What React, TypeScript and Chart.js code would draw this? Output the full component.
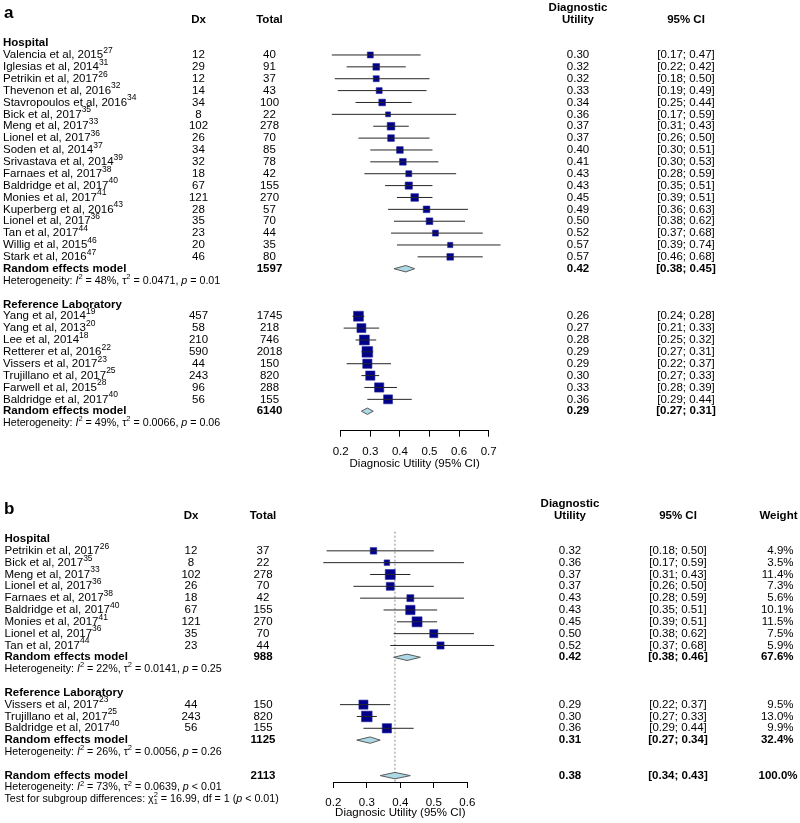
import React, { useEffect, useRef } from "react";
import { Chart, registerables } from "chart.js";
Chart.register(...registerables);

const FONT = "'Liberation Sans', Arial, Helvetica, sans-serif";
const NAVY = "#00008B";
const DIAMOND_FILL = "#ADD8E6";
const AXIS_TITLE = "Diagnosic Utility (95% CI)";

// ================= Panel a : data =================
const aHospNames = ["Valencia et al, 2015", "Iglesias et al, 2014", "Petrikin et al, 2017", "Thevenon et al, 2016", "Stavropoulos et al, 2016", "Bick et al, 2017", "Meng et al, 2017", "Lionel et al, 2017", "Soden et al, 2014", "Srivastava et al, 2014", "Farnaes et al, 2017", "Baldridge et al, 2017", "Monies et al, 2017", "Kuperberg et al, 2016", "Lionel et al, 2017", "Tan et al, 2017", "Willig et al, 2015", "Stark et al, 2016"];
const aHospRefs = [27, 31, 26, 32, 34, 35, 33, 36, 37, 39, 38, 40, 41, 43, 36, 44, 46, 47];
const aHospDx = [12, 29, 12, 14, 34, 8, 102, 26, 34, 32, 18, 67, 121, 28, 35, 23, 20, 46];
const aHospTotal = [40, 91, 37, 43, 100, 22, 278, 70, 85, 78, 42, 155, 270, 57, 70, 44, 35, 80];
const aHospEst = [0.30, 0.32, 0.32, 0.33, 0.34, 0.36, 0.37, 0.37, 0.40, 0.41, 0.43, 0.43, 0.45, 0.49, 0.50, 0.52, 0.57, 0.57];
const aHospLo = [0.17, 0.22, 0.18, 0.19, 0.25, 0.17, 0.31, 0.26, 0.30, 0.30, 0.28, 0.35, 0.39, 0.36, 0.38, 0.37, 0.39, 0.46];
const aHospHi = [0.47, 0.42, 0.50, 0.49, 0.44, 0.59, 0.43, 0.50, 0.51, 0.53, 0.59, 0.51, 0.51, 0.63, 0.62, 0.68, 0.74, 0.68];
// weights (%)
const aHospWeight = [4.1, 5.1, 4.1, 4.1, 5.1, 2.8, 6.7, 5.1, 5.1, 5.1, 4.1, 6.0, 6.7, 5.1, 5.1, 4.1, 3.2, 5.1];

const aLabNames = ["Yang et al, 2014", "Yang et al, 2013", "Lee et al, 2014", "Retterer et al, 2016", "Vissers et al, 2017", "Trujillano et al, 2017", "Farwell et al, 2015", "Baldridge et al, 2017"];
const aLabRefs = [19, 20, 18, 22, 23, 25, 28, 40];
const aLabDx = [457, 58, 210, 590, 44, 243, 96, 56];
const aLabTotal = [1745, 218, 746, 2018, 150, 820, 288, 155];
const aLabEst = [0.26, 0.27, 0.28, 0.29, 0.29, 0.30, 0.33, 0.36];
const aLabLo = [0.24, 0.21, 0.25, 0.27, 0.22, 0.27, 0.28, 0.29];
const aLabHi = [0.28, 0.33, 0.32, 0.31, 0.37, 0.33, 0.39, 0.44];
const aLabWeight = [11.3, 9.2, 11.3, 13.0, 9.8, 9.8, 9.8, 9.2];

// pooled rows: [hospital, reference laboratory]
const aPooledTotal = [1597, 6140];
const aPooledEst = [0.42, 0.29];
const aPooledLo = [0.38, 0.27];
const aPooledHi = [0.45, 0.31];
const aHetI2 = [48, 49];
const aHetTau2 = ["0.0471", "0.0066"];
const aHetP = ["= 0.01", "= 0.06"];

// ================= Panel b : data =================
const bHospNames = ["Petrikin et al, 2017", "Bick et al, 2017", "Meng et al, 2017", "Lionel et al, 2017", "Farnaes et al, 2017", "Baldridge et al, 2017", "Monies et al, 2017", "Lionel et al, 2017", "Tan et al, 2017"];
const bHospRefs = [26, 35, 33, 36, 38, 40, 41, 36, 44];
const bHospDx = [12, 8, 102, 26, 18, 67, 121, 35, 23];
const bHospTotal = [37, 22, 278, 70, 42, 155, 270, 70, 44];
const bHospEst = [0.32, 0.36, 0.37, 0.37, 0.43, 0.43, 0.45, 0.50, 0.52];
const bHospLo = [0.18, 0.17, 0.31, 0.26, 0.28, 0.35, 0.39, 0.38, 0.37];
const bHospHi = [0.50, 0.59, 0.43, 0.50, 0.59, 0.51, 0.51, 0.62, 0.68];
const bHospWeight = [4.9, 3.5, 11.4, 7.3, 5.6, 10.1, 11.5, 7.5, 5.9];

const bLabNames = ["Vissers et al, 2017", "Trujillano et al, 2017", "Baldridge et al, 2017"];
const bLabRefs = [23, 25, 40];
const bLabDx = [44, 243, 56];
const bLabTotal = [150, 820, 155];
const bLabEst = [0.29, 0.30, 0.36];
const bLabLo = [0.22, 0.27, 0.29];
const bLabHi = [0.37, 0.33, 0.44];
const bLabWeight = [9.5, 13.0, 9.9];

// pooled rows: [hospital, reference laboratory, overall]
const bPooledTotal = [988, 1125, 2113];
const bPooledEst = [0.42, 0.31, 0.384];
const bPooledLo = [0.38, 0.27, 0.34];
const bPooledHi = [0.46, 0.34, 0.43];
const bPooledWeight = [67.6, 32.4, 100.0];
const bHetI2 = [22, 26, 73];
const bHetTau2 = ["0.0141", "0.0056", "0.0639"];
const bHetP = ["= 0.25", "= 0.26", "< 0.01"];
const bTestChi2 = "16.99";
const bTestDf = 1;
const bTestP = "< 0.01";

// ================= types / builders =================
type Study = { name: string; ref: number; dx: number; total: number; est: number; lo: number; hi: number; w: number; r: number; showW: boolean };
type Pooled = { total: number; est: number; lo: number; hi: number; w: number | null; r: number; overall: boolean };
type Het = { r: number; i2: number; tau2: string; p: string };
type Panel = {
  letter: string;
  height: number;
  xMin: number;
  xMax: number;
  padLeft: number;
  padRight: number;
  padTop: number;
  yMax: number;
  axisH: number;
  tickPad: number;
  titlePad: number;
  cols: { letter: number; label: number; dx: number; total: number; du: number; ci: number; wt: number | null; wtHead: number | null };
  groups: { title: string; r: number }[];
  studies: Study[];
  pooled: Pooled[];
  hets: Het[];
  test: { r: number; chi2: string; df: number; p: string } | null;
  refLine: { x: number; from: number } | null;
};

function makeStudies(names: string[], refs: number[], dx: number[], total: number[], est: number[], lo: number[], hi: number[], w: number[], r0: number, showW: boolean): Study[] {
  return names.map((name, i) => ({ name, ref: refs[i], dx: dx[i], total: total[i], est: est[i], lo: lo[i], hi: hi[i], w: w[i], r: r0 + i, showW }));
}

const panelA: Panel = {
  letter: "a",
  height: 480,
  xMin: 0.2,
  xMax: 0.7,
  padLeft: 340.7,
  padRight: 311.3,
  padTop: 19.35,
  yMax: 32.64,
  axisH: 49.3,
  tickPad: 8.7,
  titlePad: 9.1,
  cols: { letter: 4, label: 3, dx: 198.5, total: 269.5, du: 578, ci: 686, wt: null, wtHead: null },
  groups: [
    { title: "Hospital", r: 0 },
    { title: "Reference Laboratory", r: 22 },
  ],
  studies: [
    ...makeStudies(aHospNames, aHospRefs, aHospDx, aHospTotal, aHospEst, aHospLo, aHospHi, aHospWeight, 1, false),
    ...makeStudies(aLabNames, aLabRefs, aLabDx, aLabTotal, aLabEst, aLabLo, aLabHi, aLabWeight, 23, false),
  ],
  pooled: [
    { total: aPooledTotal[0], est: aPooledEst[0], lo: aPooledLo[0], hi: aPooledHi[0], w: null, r: 19, overall: false },
    { total: aPooledTotal[1], est: aPooledEst[1], lo: aPooledLo[1], hi: aPooledHi[1], w: null, r: 31, overall: false },
  ],
  hets: [
    { r: 20, i2: aHetI2[0], tau2: aHetTau2[0], p: aHetP[0] },
    { r: 32, i2: aHetI2[1], tau2: aHetTau2[1], p: aHetP[1] },
  ],
  test: null,
  refLine: null,
};

const panelB: Panel = {
  letter: "b",
  height: 343,
  xMin: 0.2,
  xMax: 0.6,
  padLeft: 333.3,
  padRight: 332.7,
  padTop: 35.34,
  yMax: 20.54,
  axisH: 41,
  tickPad: 8.4,
  titlePad: 2.8,
  cols: { letter: 4, label: 4.5, dx: 191, total: 263, du: 570, ci: 678, wt: 793.5, wtHead: 797.5 },
  groups: [
    { title: "Hospital", r: 0 },
    { title: "Reference Laboratory", r: 13 },
  ],
  studies: [
    ...makeStudies(bHospNames, bHospRefs, bHospDx, bHospTotal, bHospEst, bHospLo, bHospHi, bHospWeight, 1, true),
    ...makeStudies(bLabNames, bLabRefs, bLabDx, bLabTotal, bLabEst, bLabLo, bLabHi, bLabWeight, 14, true),
  ],
  pooled: [
    { total: bPooledTotal[0], est: bPooledEst[0], lo: bPooledLo[0], hi: bPooledHi[0], w: bPooledWeight[0], r: 10, overall: false },
    { total: bPooledTotal[1], est: bPooledEst[1], lo: bPooledLo[1], hi: bPooledHi[1], w: bPooledWeight[1], r: 17, overall: false },
    { total: bPooledTotal[2], est: bPooledEst[2], lo: bPooledLo[2], hi: bPooledHi[2], w: bPooledWeight[2], r: 20, overall: true },
  ],
  hets: [
    { r: 11, i2: bHetI2[0], tau2: bHetTau2[0], p: bHetP[0] },
    { r: 18, i2: bHetI2[1], tau2: bHetTau2[1], p: bHetP[1] },
    { r: 21, i2: bHetI2[2], tau2: bHetTau2[2], p: bHetP[2] },
  ],
  test: { r: 22, chi2: bTestChi2, df: bTestDf, p: bTestP },
  refLine: { x: bPooledEst[2], from: -0.62 },
};

// ================= text drawing =================
type Run = { t: string; b?: boolean; i?: boolean; sz?: number; dy?: number; noAdv?: boolean };

function fontOf(r: Run, base: number) {
  return `${r.i ? "italic " : ""}${r.b ? "bold " : ""}${r.sz ?? base}px ${FONT}`;
}

function drawRuns(ctx: CanvasRenderingContext2D, list: Run[], x: number, y: number, align: "left" | "center" | "right", base = 11.5) {
  let total = 0;
  const ws = list.map((r) => {
    ctx.font = fontOf(r, base);
    const w = ctx.measureText(r.t).width;
    if (!r.noAdv) total += w;
    return w;
  });
  let cx = align === "left" ? x : align === "center" ? x - total / 2 : x - total;
  ctx.textAlign = "left";
  list.forEach((r, k) => {
    ctx.font = fontOf(r, base);
    ctx.fillText(r.t, cx, y + (r.dy ?? 0));
    if (!r.noAdv) cx += ws[k];
  });
}

const SUP = 8.5;
const HET = 10.7;

function makeTextPlugin(P: Panel) {
  return {
    id: "forestText_" + P.letter,
    afterDraw(chart: any) {
      const ctx: CanvasRenderingContext2D = chart.ctx;
      const ys = chart.scales.y;
      const Y = (r: number) => ys.getPixelForValue(r);
      const c = P.cols;
      ctx.save();
      ctx.fillStyle = "#000";
      ctx.textBaseline = "middle";

      drawRuns(ctx, [{ t: P.letter, b: true, sz: 17 }], c.letter, Y(-2.5), "left");
      drawRuns(ctx, [{ t: "Dx", b: true }], c.dx, Y(-2), "center");
      drawRuns(ctx, [{ t: "Total", b: true }], c.total, Y(-2), "center");
      drawRuns(ctx, [{ t: "Diagnostic", b: true }], c.du, Y(-3), "center");
      drawRuns(ctx, [{ t: "Utility", b: true }], c.du, Y(-2), "center");
      drawRuns(ctx, [{ t: "95% CI", b: true }], c.ci, Y(-2), "center");
      if (c.wtHead !== null) drawRuns(ctx, [{ t: "Weight", b: true }], c.wtHead, Y(-2), "right");

      P.groups.forEach((g) => drawRuns(ctx, [{ t: g.title, b: true }], c.label, Y(g.r), "left"));

      P.studies.forEach((s) => {
        const y = Y(s.r);
        drawRuns(ctx, [{ t: s.name }, { t: String(s.ref), sz: SUP, dy: -4.5 }], c.label, y, "left");
        drawRuns(ctx, [{ t: String(s.dx) }], c.dx, y, "center");
        drawRuns(ctx, [{ t: String(s.total) }], c.total, y, "center");
        drawRuns(ctx, [{ t: s.est.toFixed(2) }], c.du, y, "center");
        drawRuns(ctx, [{ t: `[${s.lo.toFixed(2)}; ${s.hi.toFixed(2)}]` }], c.ci, y, "center");
        if (s.showW && c.wt !== null) drawRuns(ctx, [{ t: `${s.w.toFixed(1)}%` }], c.wt, y, "right");
      });

      P.pooled.forEach((p) => {
        const y = Y(p.r);
        drawRuns(ctx, [{ t: "Random effects model", b: true }], c.label, y, "left");
        drawRuns(ctx, [{ t: String(p.total), b: true }], c.total, y, "center");
        drawRuns(ctx, [{ t: p.est.toFixed(2), b: true }], c.du, y, "center");
        drawRuns(ctx, [{ t: `[${p.lo.toFixed(2)}; ${p.hi.toFixed(2)}]`, b: true }], c.ci, y, "center");
        if (p.w !== null && c.wt !== null) {
          const wx = p.overall && c.wtHead !== null ? c.wtHead : c.wt;
          drawRuns(ctx, [{ t: `${p.w.toFixed(1)}%`, b: true }], wx, y, "right");
        }
      });

      P.hets.forEach((h) => {
        drawRuns(
          ctx,
          [
            { t: "Heterogeneity: " },
            { t: "I", i: true },
            { t: "2", sz: 7.5, dy: -4 },
            { t: ` = ${h.i2}%, ` },
            { t: "\u03c4" },
            { t: "2", sz: 7.5, dy: -4 },
            { t: ` = ${h.tau2}, ` },
            { t: "p", i: true },
            { t: ` ${h.p}` },
          ],
          c.label,
          Y(h.r),
          "left",
          HET
        );
      });

      if (P.test) {
        const t = P.test;
        drawRuns(
          ctx,
          [
            { t: "Test for subgroup differences: " },
            { t: "\u03c7" },
            { t: "2", sz: 7.5, dy: -4, noAdv: true },
            { t: "1", sz: 7.5, dy: 3 },
            { t: ` = ${t.chi2}, df = ${t.df} (` },
            { t: "p", i: true },
            { t: ` ${t.p})` },
          ],
          c.label,
          Y(t.r),
          "left",
          HET
        );
      }
      ctx.restore();
    },
  };
}

const DH = 0.27; // diamond half height, in rows
const boxSide = (w: number) => 2.95 * Math.sqrt(w);

function buildChart(canvas: HTMLCanvasElement, P: Panel) {
  const datasets: any[] = [];
  if (P.refLine) {
    datasets.push({
      data: [
        { x: P.refLine.x, y: P.refLine.from },
        { x: P.refLine.x, y: P.yMax },
      ],
      showLine: true,
      borderColor: "#8a8a8a",
      borderWidth: 1,
      borderDash: [2, 2],
      pointRadius: 0,
      order: 4,
      clip: false,
    });
  }
  P.pooled.forEach((p) => {
    datasets.push({
      data: [
        { x: p.lo, y: p.r },
        { x: p.est, y: p.r - DH },
        { x: p.hi, y: p.r },
        { x: p.est, y: p.r + DH },
        { x: p.lo, y: p.r },
      ],
      showLine: true,
      fill: "shape",
      backgroundColor: DIAMOND_FILL,
      borderColor: "#5a5a5a",
      borderWidth: 1,
      pointRadius: 0,
      tension: 0,
      order: 3,
      clip: false,
    });
  });
  datasets.push({
    data: P.studies.map((s) => ({ x: s.est, y: s.r })),
    pointStyle: "rect",
    pointRadius: P.studies.map((s) => boxSide(s.w) / Math.SQRT2),
    backgroundColor: NAVY,
    borderColor: "#2a2a9a",
    borderWidth: 0.6,
    order: 2,
    clip: false,
  });
  P.studies.forEach((s) => {
    datasets.push({
      data: [
        { x: s.lo, y: s.r },
        { x: s.hi, y: s.r },
      ],
      showLine: true,
      borderColor: "#262626",
      borderWidth: 1,
      pointRadius: 0,
      order: 1,
      clip: false,
    });
  });

  return new Chart(canvas, {
    type: "scatter",
    data: { datasets },
    options: {
      responsive: false,
      animation: false,
      events: [],
      layout: { padding: { left: P.padLeft, right: P.padRight, top: P.padTop, bottom: 0 } },
      plugins: { legend: { display: false }, tooltip: { enabled: false } },
      scales: {
        x: {
          type: "linear",
          position: "bottom",
          min: P.xMin,
          max: P.xMax,
          ticks: {
            stepSize: 0.1,
            autoSkip: false,
            maxRotation: 0,
            padding: P.tickPad,
            color: "#000",
            font: { family: FONT, size: 11.5 },
            callback: (v: any) => Number(v).toFixed(1),
          },
          grid: { drawOnChartArea: false, drawTicks: true, tickLength: 6, color: "#000", tickColor: "#000", lineWidth: 1 },
          border: { display: true, color: "#000", width: 1 },
          title: {
            display: true,
            text: AXIS_TITLE,
            color: "#000",
            font: { family: FONT, size: 11.5 },
            padding: { top: 0, bottom: P.titlePad },
          },
          afterFit: (s: any) => {
            s.height = P.axisH;
          },
        },
        y: { type: "linear", reverse: true, min: -2, max: P.yMax, display: false },
      },
    } as any,
    plugins: [makeTextPlugin(P)],
  });
}

export default function App() {
  const aRef = useRef<HTMLCanvasElement>(null);
  const bRef = useRef<HTMLCanvasElement>(null);
  useEffect(() => {
    const ca = buildChart(aRef.current!, panelA);
    const cb = buildChart(bRef.current!, panelB);
    return () => {
      ca.destroy();
      cb.destroy();
    };
  }, []);
  return (
    <div style={{ position: "absolute", left: 0, top: 0, width: 800, height: 823, background: "#fff" }}>
      <canvas ref={aRef} width={800} height={480} style={{ position: "absolute", left: 0, top: 0, width: 800, height: 480 }} />
      <canvas ref={bRef} width={800} height={343} style={{ position: "absolute", left: 0, top: 480, width: 800, height: 343 }} />
    </div>
  );
}
